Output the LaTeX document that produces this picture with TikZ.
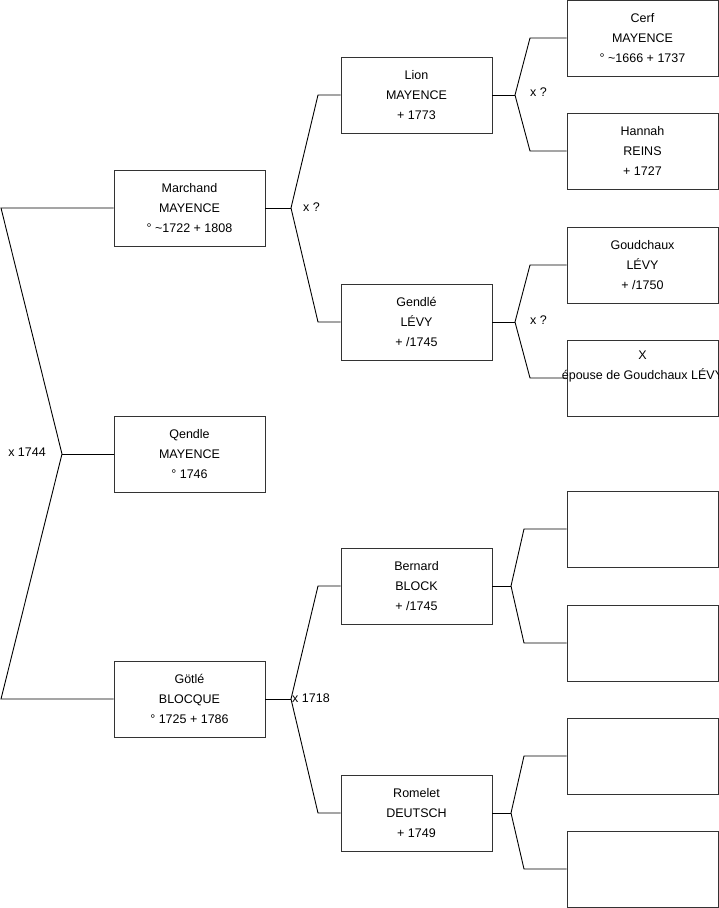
\documentclass[tikz,border=0pt]{standalone}
\usepackage{fontspec}
\setmainfont{Liberation Sans}
\usetikzlibrary{positioning}
\tikzset{
  person/.style={draw=black!80, line width=0.9pt, align=center, font=\fontsize{12.5}{20}\selectfont,
                 minimum width=151pt, minimum height=76pt, inner sep=2pt},
  blank/.style={draw=black!80, line width=0.9pt, minimum width=151pt, minimum height=76pt},
  link/.style={line width=0.9pt, black},
  union/.style={font=\fontsize{12.5}{15}\selectfont, inner sep=1pt},
}

\begin{document}
\begin{tikzpicture}[x=1pt, y=-1pt]
    \useasboundingbox (0,0) rectangle (719,908);
    % generation 1
    \node[person] (marchand) at (189.5,208) {Marchand\\MAYENCE\\° \textasciitilde1722 + 1808};
    \node[person] (qendle)   at (189.5,454) {Qendle\\MAYENCE\\° 1746};
    \node[person] (gotle)    at (189.5,699) {Götlé\\BLOCQUE\\° 1725 + 1786};
    % generation 2
    \node[person] (lion)    at (416.5,95)  {Lion\\MAYENCE\\+ 1773};
    \node[person] (gendle)  at (416.5,322) {Gendlé\\LÉVY\\+ /1745};
    \node[person] (bernard) at (416.5,586) {Bernard\\BLOCK\\+ /1745};
    \node[person] (romelet) at (416.5,813) {Romelet\\DEUTSCH\\+ 1749};
    % generation 3
    \node[person] (cerf)   at (642.5,38)  {Cerf\\MAYENCE\\° \textasciitilde1666 + 1737};
    \node[person] (hannah) at (642.5,151) {Hannah\\REINS\\+ 1727};
    \node[person] (goud)   at (642.5,265) {Goudchaux\\LÉVY\\+ /1750};
    \node[person] (xwife)  at (642.5,378) {X\\\makebox[0pt]{épouse de Goudchaux LÉVY}\\\strut};
    \node[blank] (blankA) at (642.5,529) {};
    \node[blank] (blankB) at (642.5,643) {};
    \node[blank] (blankC) at (642.5,756) {};
    \node[blank] (blankD) at (642.5,869) {};

    % couple brackets
    \coordinate (a1) at (1,208);
    \coordinate (a2) at (1,699);
    \coordinate (j0) at (62,454);
    \draw[link] (marchand.west) -- (a1) -- (j0) -- (a2) -- (gotle.west);
    \draw[link] (j0) -- (qendle.west);
    \node[union, left] (u0) at (47,452) {x 1744};

    \coordinate (jm) at (291,208);
    \coordinate (m1) at (318,95);
    \coordinate (m2) at (318,322);
    \draw[link] (marchand.east) -- (jm);
    \draw[link] (lion.west) -- (m1) -- (jm) -- (m2) -- (gendle.west);
    \node[union, right] (um) at (302,207) {x ?};

    \coordinate (jg) at (291,699);
    \coordinate (g1) at (318,586);
    \coordinate (g2) at (318,813);
    \draw[link] (gotle.east) -- (jg);
    \draw[link] (bernard.west) -- (g1) -- (jg) -- (g2) -- (romelet.west);
    \node[union, right] (ug) at (291,698) {x 1718};

    \coordinate (jl) at (515,95);
    \coordinate (l1) at (530,38);
    \coordinate (l2) at (530,151);
    \draw[link] (lion.east) -- (jl);
    \draw[link] (cerf.west) -- (l1) -- (jl) -- (l2) -- (hannah.west);
    \node[union, right] (ul) at (529,92) {x ?};

    \coordinate (jd) at (515,322);
    \coordinate (d1) at (530,265);
    \coordinate (d2) at (530,378);
    \draw[link] (gendle.east) -- (jd);
    \draw[link] (goud.west) -- (d1) -- (jd) -- (d2) -- (xwife.west);
    \node[union, right] (ud) at (529,320) {x ?};

    \coordinate (jb) at (511,586);
    \coordinate (b1) at (524,529);
    \coordinate (b2) at (524,643);
    \draw[link] (bernard.east) -- (jb);
    \draw[link] (blankA.west) -- (b1) -- (jb) -- (b2) -- (blankB.west);

    \coordinate (jr) at (511,813);
    \coordinate (r1) at (524,756);
    \coordinate (r2) at (524,869);
    \draw[link] (romelet.east) -- (jr);
    \draw[link] (blankC.west) -- (r1) -- (jr) -- (r2) -- (blankD.west);
\end{tikzpicture}
\end{document}
